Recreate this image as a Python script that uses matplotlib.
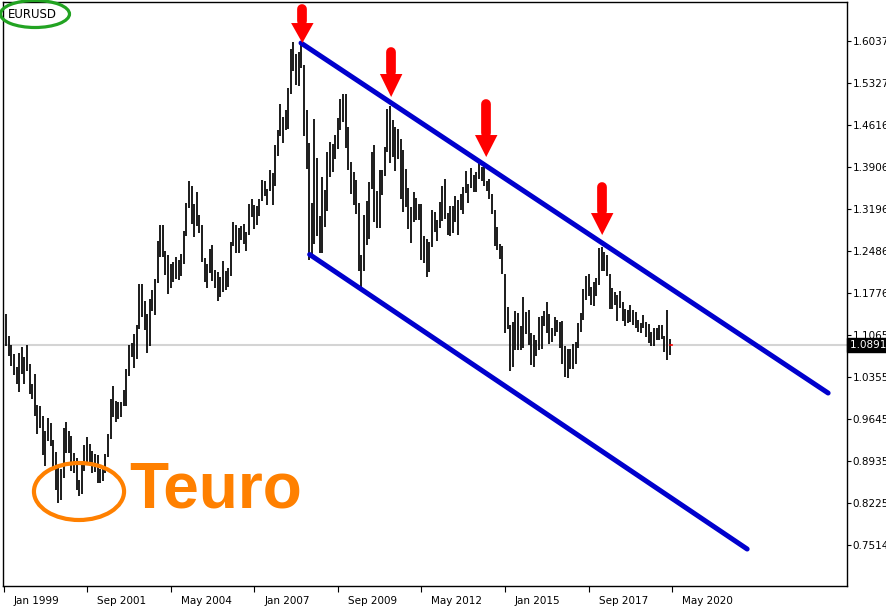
"""
EURUSD monthly bars with a falling channel (MT4 style screenshot)
"""
import numpy as np
import matplotlib
matplotlib.use('Agg')
from matplotlib import pyplot as plt
from matplotlib.patches import Ellipse
import matplotlib.transforms as mtransforms

# monthly highs / lows, Feb 1999 .. Apr 2020
highs_1999 = [1.1414, 1.1041, 1.0889, 1.0750, 1.0517, 1.0757, 1.0868, 1.0695, 1.0890, 1.0570, 1.0240]
lows_1999 = [1.0886, 1.0711, 1.0546, 1.0384, 1.0244, 1.0100, 1.0406, 1.0234, 1.0457, 1.0065, 0.9980]
highs_2000 = [1.0414, 0.9890, 0.9868, 0.9696, 0.9447, 0.9660, 0.9574, 0.9294, 0.9089, 0.8872, 0.8792, 0.9495]
lows_2000 = [0.9704, 0.9389, 0.9492, 0.9034, 0.8844, 0.9270, 0.9182, 0.8818, 0.8440, 0.8225, 0.8282, 0.8645]
highs_2001 = [0.9593, 0.9445, 0.9356, 0.9075, 0.8986, 0.8621, 0.8862, 0.9212, 0.9337, 0.9225, 0.9111, 0.9045]
lows_2001 = [0.9066, 0.9062, 0.8760, 0.8739, 0.8437, 0.8346, 0.8383, 0.8766, 0.8901, 0.8915, 0.8737, 0.8753]
highs_2002 = [0.9039, 0.8806, 0.8837, 0.9048, 0.9383, 0.9982, 1.0197, 0.9942, 0.9939, 0.9927, 1.0142, 1.0497]
lows_2002 = [0.8566, 0.8562, 0.8602, 0.8725, 0.8998, 0.9300, 0.9685, 0.9591, 0.9650, 0.9687, 0.9857, 0.9865]
highs_2003 = [1.0899, 1.0936, 1.1077, 1.1230, 1.1933, 1.1932, 1.1633, 1.1426, 1.1673, 1.1830, 1.2010, 1.2647]
lows_2003 = [1.0365, 1.0685, 1.0502, 1.0653, 1.1166, 1.1367, 1.1151, 1.0764, 1.0878, 1.1466, 1.1401, 1.1947]
highs_2004 = [1.2928, 1.2930, 1.2480, 1.2417, 1.2272, 1.2292, 1.2382, 1.2334, 1.2439, 1.2820, 1.3295, 1.3667]
lows_2004 = [1.2390, 1.2383, 1.2086, 1.1759, 1.1868, 1.1960, 1.2010, 1.2000, 1.2061, 1.2262, 1.2732, 1.3215]
highs_2005 = [1.3582, 1.3276, 1.3480, 1.3093, 1.2934, 1.2368, 1.2262, 1.2515, 1.2585, 1.2166, 1.2125, 1.2043]
lows_2005 = [1.2943, 1.2728, 1.2915, 1.2792, 1.2304, 1.1954, 1.1868, 1.2114, 1.1985, 1.1868, 1.1640, 1.1707]
highs_2006 = [1.2323, 1.2151, 1.2205, 1.2637, 1.2979, 1.2931, 1.2868, 1.2912, 1.2942, 1.2807, 1.3283, 1.3366]
lows_2006 = [1.1800, 1.1827, 1.1872, 1.2067, 1.2578, 1.2456, 1.2455, 1.2676, 1.2611, 1.2484, 1.2750, 1.3062]
highs_2007 = [1.3268, 1.3252, 1.3372, 1.3682, 1.3667, 1.3537, 1.3853, 1.3805, 1.4278, 1.4527, 1.4967, 1.4756]
lows_2007 = [1.2866, 1.2934, 1.3073, 1.3325, 1.3414, 1.3265, 1.3504, 1.3261, 1.3587, 1.4097, 1.4439, 1.4306]
highs_2008 = [1.4877, 1.5238, 1.5904, 1.6019, 1.5818, 1.5845, 1.6038, 1.5624, 1.4867, 1.4307, 1.3291, 1.4719]
lows_2008 = [1.4527, 1.4557, 1.5133, 1.5526, 1.5286, 1.5284, 1.5573, 1.4433, 1.3881, 1.2330, 1.2424, 1.2600]
highs_2009 = [1.4058, 1.3077, 1.3737, 1.3510, 1.4160, 1.4337, 1.4290, 1.4446, 1.4743, 1.5063, 1.5144, 1.5145]
lows_2009 = [1.2741, 1.2457, 1.2455, 1.2885, 1.3160, 1.3745, 1.3830, 1.4046, 1.4204, 1.4533, 1.4664, 1.4220]
highs_2010 = [1.4579, 1.3987, 1.3819, 1.3693, 1.3300, 1.2425, 1.3101, 1.3334, 1.3651, 1.4159, 1.4282, 1.3500]
lows_2010 = [1.3858, 1.3443, 1.3266, 1.3114, 1.2144, 1.1876, 1.2152, 1.2588, 1.2692, 1.3540, 1.2968, 1.2873]
highs_2011 = [1.3862, 1.3862, 1.4249, 1.4882, 1.4940, 1.4698, 1.4580, 1.4549, 1.4388, 1.4194, 1.3874, 1.3548]
lows_2011 = [1.2867, 1.3430, 1.3748, 1.4154, 1.3968, 1.4072, 1.3837, 1.4050, 1.3361, 1.3145, 1.3236, 1.2858]
highs_2012 = [1.3233, 1.3487, 1.3386, 1.3284, 1.3283, 1.2748, 1.2692, 1.2638, 1.3172, 1.3140, 1.3011, 1.3308]
lows_2012 = [1.2624, 1.2975, 1.3004, 1.3003, 1.2335, 1.2288, 1.2042, 1.2134, 1.2559, 1.2802, 1.2661, 1.2876]
highs_2013 = [1.3586, 1.3711, 1.3122, 1.3243, 1.3243, 1.3416, 1.3345, 1.3452, 1.3568, 1.3832, 1.3619, 1.3893]
lows_2013 = [1.3000, 1.3019, 1.2750, 1.2745, 1.2795, 1.2978, 1.2755, 1.3173, 1.3105, 1.3468, 1.3295, 1.3547]
highs_2014 = [1.3775, 1.3825, 1.3967, 1.3906, 1.3993, 1.3677, 1.3701, 1.3444, 1.3183, 1.2887, 1.2601, 1.2570]
lows_2014 = [1.3478, 1.3477, 1.3704, 1.3673, 1.3586, 1.3503, 1.3366, 1.3105, 1.2571, 1.2500, 1.2358, 1.2090]
highs_2015 = [1.2104, 1.1535, 1.1240, 1.1290, 1.1465, 1.1436, 1.1216, 1.1714, 1.1459, 1.1495, 1.1095, 1.1059]
lows_2015 = [1.1098, 1.1175, 1.0458, 1.0520, 1.0819, 1.0819, 1.0809, 1.0847, 1.1087, 1.0895, 1.0557, 1.0523]
highs_2016 = [1.0986, 1.1376, 1.1387, 1.1464, 1.1616, 1.1428, 1.1186, 1.1366, 1.1327, 1.1278, 1.1300, 1.0875]
lows_2016 = [1.0711, 1.0810, 1.0822, 1.1217, 1.1097, 1.0912, 1.0952, 1.1046, 1.1122, 1.0852, 1.0568, 1.0352]
highs_2017 = [1.0828, 1.0829, 1.0906, 1.0950, 1.1268, 1.1445, 1.1845, 1.2070, 1.2092, 1.1880, 1.1961, 1.2023]
lows_2017 = [1.0340, 1.0494, 1.0495, 1.0569, 1.0839, 1.1118, 1.1312, 1.1662, 1.1717, 1.1574, 1.1554, 1.1718]
highs_2018 = [1.2537, 1.2555, 1.2476, 1.2414, 1.2096, 1.1852, 1.1791, 1.1734, 1.1815, 1.1625, 1.1500, 1.1486]
lows_2018 = [1.1915, 1.2154, 1.2155, 1.2055, 1.1510, 1.1508, 1.1575, 1.1301, 1.1526, 1.1302, 1.1215, 1.1269]
highs_2019 = [1.1570, 1.1489, 1.1448, 1.1324, 1.1265, 1.1412, 1.1285, 1.1249, 1.1109, 1.1179, 1.1176, 1.1239]
lows_2019 = [1.1289, 1.1234, 1.1176, 1.1110, 1.1107, 1.1181, 1.1028, 1.0927, 1.0879, 1.0879, 1.0981, 1.0981]
highs_2020 = [1.1239, 1.1053, 1.1495, 1.0990]
lows_2020 = [1.1001, 1.0778, 1.0636, 1.0727]

last_price = 1.0891

price_ticks = [1.6037, 1.5327, 1.4616, 1.3906, 1.3196, 1.2486, 1.1776, 1.1065,
               1.0355, 0.9645, 0.8935, 0.8225, 0.7514]
date_labels = ['Jan 1999', 'Sep 2001', 'May 2004', 'Jan 2007', 'Sep 2009',
               'May 2012', 'Jan 2015', 'Sep 2017', 'May 2020']
date_ticks = [0, 32, 64, 96, 128, 160, 192, 224, 256]  # months after Jan 1999

# channel drawn on the chart: (month, price) end points
upper_line = [(113.9, 1.6003), (315.7, 1.0084)]
lower_line = [(117.2, 1.2427), (284.7, 0.7446)]
# red arrows: month, shaft top, head base, tip
arrows = [(114.4, 1.6583, 1.6341, 1.6003),
          (148.4, 1.5856, 1.5479, 1.5090),
          (184.8, 1.4976, 1.4447, 1.4075),
          (229.2, 1.3573, 1.3128, 1.2756)]

highs = []
lows = []
for yr in range(1999, 2021):
    highs += globals()['highs_%d' % yr]
    lows += globals()['lows_%d' % yr]
months = np.arange(1, len(highs) + 1)

W, H = 887, 607
fig = plt.figure(figsize=(W / 100, H / 100), dpi=100)
ax = fig.add_axes([3 / W, (H - 586) / H, 844 / W, 584.5 / H])
ax.set_xlim(-0.2, -0.2 + 844 / 2.612)
ax.set_ylim(0.6821, 1.6705)

ax.axhline(last_price, color='#d4d4d4', lw=1.5, zorder=0)
ax.vlines(months, lows, highs, color='black', lw=1.25, zorder=2)
ax.plot([months[-1], months[-1] + 0.9], [last_price, last_price], color='red', lw=1.2, zorder=3)

blue = '#0000cd'
for line in (upper_line, lower_line):
    xs, ys = zip(*line)
    ax.plot(xs, ys, color=blue, lw=3.6, solid_capstyle='round', zorder=4)

for (mx, top, base, tip) in arrows:
    ax.plot([mx, mx], [top, base + 0.004], color='red', lw=7.0, solid_capstyle='round', zorder=5)
    ax.fill([mx - 4.3, mx + 4.3, mx], [base, base, tip], color='red', lw=0, zorder=5)

orange = '#ff8000'
ax.add_patch(Ellipse((28.9, 0.8419), 34.5, 0.0964, fill=False, edgecolor=orange, lw=3, zorder=6))
ax.text(48.3, 0.8140, 'Teuro', color=orange, fontsize=46, fontweight='bold',
        family='Liberation Sans', va='baseline', ha='left', zorder=6)

# axes styling
ax.yaxis.tick_right()
ax.set_yticks(price_ticks)
ax.set_yticklabels(['%.4f' % p for p in price_ticks])
ax.set_xticks(date_ticks)
ax.set_xticklabels(date_labels)
ax.tick_params(axis='y', direction='out', length=3, pad=1, labelsize=7.5)
ax.tick_params(axis='x', direction='out', length=4, pad=3, labelsize=7.5)
shift = mtransforms.ScaledTranslation(10 / 100, 0, fig.dpi_scale_trans)
for lbl in ax.get_xticklabels():
    lbl.set_horizontalalignment('left')
    lbl.set_transform(lbl.get_transform() + shift)
for sp in ax.spines.values():
    sp.set_color('black')
    sp.set_linewidth(1)

trans = mtransforms.blended_transform_factory(ax.transAxes, ax.transData)
ax.text(1.003, last_price, '1.0891 ', transform=trans, color='white', fontsize=7.5,
        va='center', ha='left', clip_on=False, zorder=10,
        bbox=dict(facecolor='black', edgecolor='black', pad=1.5))

# symbol name in the corner, circled
fig.text(8 / W, 1 - 14 / H, 'EURUSD', fontsize=8.5, va='center', ha='left')
fig.add_artist(Ellipse((35 / W, 1 - 14 / H), 69 / W, 27 / H, fill=False,
                       edgecolor='#22a322', lw=2.3, transform=fig.transFigure))

fig.savefig('out.png', dpi=100)
